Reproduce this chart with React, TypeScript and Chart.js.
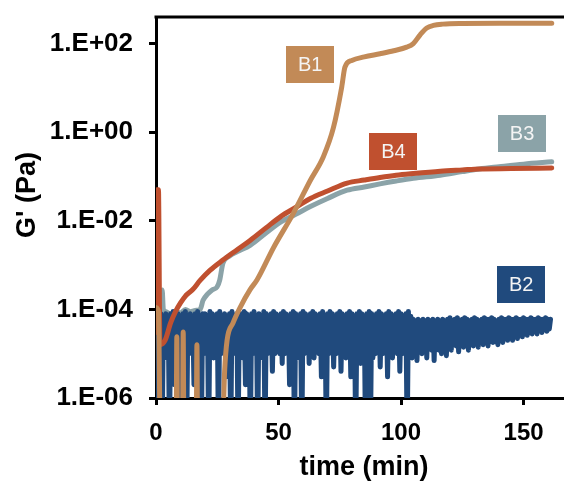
import React, { useEffect, useRef } from "react";
import { Chart, registerables } from "chart.js";
Chart.register(...registerables);

// ---------- data ----------
const xTickValues = [0, 50, 100, 150];
const yTickExponents = [-6, -4, -2, 0, 2];

// B1 (tan)
const b1Time = [0, 1, 1.8, 8.2, 8.5, 8.8, 10.8, 11.1, 11.4, 16.4, 16.7, 17.0, 27, 28, 29, 31.4, 34.3, 38.4, 41.2, 48, 56, 62.9, 68.3, 72.4, 75.8, 77.1, 79.9, 85, 91.4, 97, 102.3, 105, 107.8, 110.5, 113.2, 117, 125, 140, 161.5];
const b1Value = [1.1e-4, 9e-5, 1e-7, 1e-7, 2.4e-5, 1e-7, 1e-7, 3.1e-5, 1e-7, 1e-7, 1.6e-5, 1e-7, 1e-7, 4e-6, 2e-5, 4.9e-5, 1.1e-4, 2.8e-4, 4.6e-4, 2.5e-3, 1.45e-2, 8e-2, 0.28, 1.26, 10.5, 29.5, 41.7, 50, 59, 69, 83, 100, 158, 224, 257, 275, 285, 288, 288];

// B2 (navy) – one reading every half minute (rows of 10 minutes)
const b2Step = 0.5;
const b2Value = [
  9e-5, 1e-7, 7e-5, 1e-5, 8e-5, 1e-7, 7e-5, 8e-6, 8e-5, 1e-5, 7e-5, 1e-7, 8e-5, 1.2e-5, 9e-5, 2e-6, 7e-5, 1e-5, 8e-5, 1e-7,
  7e-5, 1e-5, 8e-5, 8e-6, 9e-5, 1e-7, 7e-5, 1e-5, 8e-5, 1.2e-5, 7e-5, 2e-6, 8e-5, 1e-5, 9e-5, 8e-6, 7e-5, 1e-7, 8e-5, 1e-5,
  8e-5, 1.2e-5, 7e-5, 1e-7, 9e-5, 1e-5, 8e-5, 8e-6, 7e-5, 1e-5, 8e-5, 1e-7, 9e-5, 1e-5, 7e-5, 1.2e-5, 8e-5, 3e-6, 7e-5, 1e-5,
  8e-5, 1e-7, 9e-5, 1e-5, 7e-5, 1.2e-5, 8e-5, 1e-7, 7e-5, 1e-5, 8e-5, 8e-6, 9e-5, 2e-6, 8e-5, 1e-5, 7e-5, 1e-7, 8e-5, 1e-5,
  9e-5, 1.2e-5, 7e-5, 1e-7, 8e-5, 1e-5, 7e-5, 8e-6, 9e-5, 1e-7, 8e-5, 1e-5, 7e-5, 1.2e-5, 8e-5, 4e-6, 9e-5, 1e-5, 8e-5, 1.2e-5,
  7e-5, 1e-5, 8e-5, 6e-6, 9e-5, 1e-5, 8e-5, 1.2e-5, 7e-5, 2e-6, 8e-5, 1e-5, 9e-5, 1e-7, 8e-5, 8e-6, 7e-5, 1e-5, 8e-5, 1e-7,
  9e-5, 1e-5, 8e-5, 1.2e-5, 7e-5, 6e-6, 8e-5, 1e-5, 9e-5, 8e-6, 8e-5, 1.2e-5, 7e-5, 1e-5, 8e-5, 3e-6, 9e-5, 1e-5, 7e-5, 1e-7,
  8e-5, 1e-5, 9e-5, 1.2e-5, 8e-5, 5e-6, 7e-5, 1e-5, 8e-5, 1.2e-5, 9e-5, 4e-6, 8e-5, 1e-5, 7e-5, 8e-6, 8e-5, 1e-5, 9e-5, 3e-6,
  8e-5, 1e-5, 7e-5, 1e-7, 8e-5, 1e-5, 9e-5, 6e-6, 8e-5, 1.2e-5, 7e-5, 1e-7, 8e-5, 1e-5, 9e-5, 1e-7, 8e-5, 8e-6, 7e-5, 1e-5,
  8e-5, 1.2e-5, 9e-5, 5e-6, 8e-5, 1e-5, 7e-5, 1.2e-5, 8e-5, 3e-6, 9e-5, 1e-5, 8e-5, 8e-6, 7e-5, 1.2e-5, 8e-5, 1e-5, 9e-5, 4e-6,
  8e-5, 1e-5, 7e-5, 1.2e-5, 8e-5, 1e-7, 9e-5, 1e-5, 7e-5, 8e-6, 6e-5, 1.2e-5, 5.5e-5, 7e-6, 6e-5, 1.5e-5, 5.5e-5, 1e-5, 6e-5, 1.5e-5,
  5.5e-5, 8e-6, 6e-5, 1.5e-5, 5.5e-5, 1.2e-5, 6e-5, 7e-6, 5.5e-5, 1.5e-5, 6e-5, 1.2e-5, 5.5e-5, 1e-5, 6e-5, 1.6e-5, 5.5e-5, 9e-6, 6e-5, 1.5e-5,
  6.5e-5, 1.2e-5, 5.5e-5, 1.8e-5, 6e-5, 1.5e-5, 6.5e-5, 1.1e-5, 5.5e-5, 1.8e-5, 6e-5, 1.4e-5, 6.5e-5, 1.8e-5, 6e-5, 1.2e-5, 5.5e-5, 1.8e-5, 6e-5, 1.5e-5,
  6.5e-5, 2e-5, 6e-5, 1.4e-5, 5.5e-5, 2e-5, 6e-5, 1.6e-5, 6.5e-5, 2e-5, 6e-5, 1.5e-5, 6e-5, 2.2e-5, 6.5e-5, 1.8e-5, 6e-5, 2.2e-5, 5.5e-5, 1.6e-5,
  6e-5, 2.4e-5, 6.5e-5, 1.8e-5, 6e-5, 2.5e-5, 6e-5, 2e-5, 6.5e-5, 2.6e-5, 6e-5, 2e-5, 6e-5, 2.6e-5, 6.5e-5, 2.2e-5, 6e-5, 2.8e-5, 6e-5, 2.4e-5,
  6.5e-5, 2.8e-5, 6e-5, 2.6e-5, 6e-5, 3e-5, 6.5e-5, 2.8e-5, 6e-5, 3.2e-5, 6e-5, 2.8e-5, 6.5e-5, 3.4e-5, 6e-5, 3e-5, 6e-5, 3.5e-5, 6.5e-5, 3.2e-5,
  6e-5, 3.6e-5, 6e-5,
];

// B3 (grey)
const b3Time = [0, 1, 2, 2.5, 3, 4, 6, 8, 10, 12, 14, 16, 18, 19.2, 21, 22.9, 24.9, 26, 27.3, 30, 33, 38.4, 45, 51, 57, 63, 70, 78, 85, 91.4, 98, 105, 116, 125, 132, 140, 150, 161.5];
const b3Value = [1e-4, 7.9e-5, 1.26e-4, 2.75e-4, 1e-4, 8.9e-5, 7.9e-5, 8.9e-5, 8.3e-5, 1e-4, 8.9e-5, 9.5e-5, 1e-4, 1.6e-4, 2.2e-4, 2.75e-4, 3.2e-4, 4.6e-4, 1.1e-3, 1.6e-3, 2e-3, 2.8e-3, 5.4e-3, 9.5e-3, 1.4e-2, 2.1e-2, 3.2e-2, 4.9e-2, 5.8e-2, 6.8e-2, 7.9e-2, 9.1e-2, 0.107, 0.129, 0.148, 0.166, 0.19, 0.214];

// B4 (red)
const b4Time = [0, 0.4, 1.0, 1.6, 3.7, 6, 8, 10, 12, 15, 18, 22, 27.3, 33, 38.4, 45, 51, 57, 63, 70, 78, 85, 91.4, 98, 105, 116, 125, 132, 145, 161.5];
const b4Value = [3e-5, 0.05, 0.05, 1.6e-5, 2e-5, 5e-5, 9e-5, 1.4e-4, 2e-4, 2.8e-4, 4.5e-4, 7.6e-4, 1.3e-3, 2.2e-3, 3.6e-3, 7e-3, 1.26e-2, 2e-2, 3.2e-2, 4.7e-2, 7.1e-2, 8.3e-2, 9.5e-2, 0.107, 0.117, 0.132, 0.141, 0.148, 0.151, 0.155];

// label anchors (time, G')
const seriesNames = ["B1", "B2", "B3", "B4"];
const labelTime = [62.9, 149, 149.4, 96.9];
const labelValue = [34, 3.7e-4, 0.92, 0.36];

const colors = ["#C28A57", "#204A7D", "#8BA3A8", "#C0502F"];

const FONT = "'Liberation Sans', Arial, sans-serif";

function pairs(t: number[], v: number[]) {
  return t.map((x, i) => ({ x, y: v[i] }));
}

function fmtExp(v: number) {
  const e = Math.round(Math.log10(v));
  const s = e < 0 ? "-" : "+";
  const a = Math.abs(e);
  return "1.E" + s + (a < 10 ? "0" + a : String(a));
}

const decorPlugin = {
  id: "decor",
  afterDraw(chart: any) {
    const { ctx, chartArea, scales } = chart;
    ctx.save();
    // top border
    ctx.strokeStyle = "#000";
    ctx.lineWidth = 3;
    ctx.beginPath();
    ctx.moveTo(chartArea.left - 1.5, chartArea.top);
    ctx.lineTo(chartArea.right, chartArea.top);
    ctx.stroke();
    // axis titles
    ctx.fillStyle = "#000";
    ctx.font = `bold 27px ${FONT}`;
    ctx.textAlign = "center";
    ctx.textBaseline = "middle";
    ctx.fillText("time (min)", 364, 468);
    ctx.save();
    ctx.translate(28, 195);
    ctx.rotate(-Math.PI / 2);
    ctx.fillText("G' (Pa)", 0, 0);
    ctx.restore();
    // series labels
    ctx.font = `20px ${FONT}`;
    for (let i = 0; i < seriesNames.length; i++) {
      const cx = scales.x.getPixelForValue(labelTime[i]);
      const cy = scales.y.getPixelForValue(labelValue[i]);
      const w = 48, h = 37;
      ctx.fillStyle = colors[i];
      ctx.fillRect(Math.round(cx - w / 2), Math.round(cy - h / 2), w, h);
      ctx.fillStyle = "#F4F4F4";
      ctx.fillText(seriesNames[i], cx, cy + 1);
    }
    ctx.restore();
  },
};

export default function App() {
  const ref = useRef<HTMLCanvasElement | null>(null);
  useEffect(() => {
    if (!ref.current) return;
    const common = {
      pointRadius: 0,
      borderWidth: 5,
      fill: false,
      clip: 0,
      borderCapStyle: "round",
      borderJoinStyle: "round",
    };
    const chart = new Chart(ref.current, {
      type: "line",
      data: {
        datasets: [
          { ...common, label: "B1", data: pairs(b1Time, b1Value), borderColor: colors[0], order: 1, cubicInterpolationMode: "monotone" },
          { ...common, label: "B4", data: pairs(b4Time, b4Value), borderColor: colors[3], order: 2, cubicInterpolationMode: "monotone" },
          { ...common, label: "B2", data: b2Value.map((v, i) => ({ x: i * b2Step, y: v })), borderColor: colors[1], order: 3, borderWidth: 5 },
          { ...common, label: "B3", data: pairs(b3Time, b3Value), borderColor: colors[2], order: 4, cubicInterpolationMode: "monotone" },
        ] as any,
      },
      options: {
        animation: false,
        responsive: false,
        events: [],
        layout: { padding: { left: 0, right: 0, top: 17, bottom: 0 } },
        plugins: { legend: { display: false }, tooltip: { enabled: false } },
        scales: {
          x: {
            type: "linear",
            min: 0,
            max: 166.5,
            afterBuildTicks: (s: any) => {
              s.ticks = xTickValues.map((v) => ({ value: v }));
            },
            afterFit: (s: any) => {
              s.height = 85;
              s.paddingLeft = 0;
              s.paddingRight = 0;
            },
            grid: { drawOnChartArea: false, drawTicks: true, tickLength: 7, tickWidth: 3, tickColor: "#000" },
            border: { display: true, width: 3, color: "#000" },
            ticks: { color: "#000", font: { family: FONT, size: 24, weight: "bold" }, padding: 14, maxRotation: 0 },
          },
          y: {
            type: "logarithmic",
            min: 1e-6,
            max: Math.pow(10, 2.6),
            afterBuildTicks: (s: any) => {
              s.ticks = yTickExponents.map((e) => ({ value: Math.pow(10, e) }));
            },
            afterFit: (s: any) => {
              s.width = 156;
              s.paddingTop = 0;
              s.paddingBottom = 0;
            },
            grid: { drawOnChartArea: false, drawTicks: true, tickLength: 7, tickWidth: 3, tickColor: "#000" },
            border: { display: true, width: 3, color: "#000" },
            ticks: {
              color: "#000",
              font: { family: FONT, size: 26, weight: "bold" },
              padding: 16,
              callback: (v: any) => fmtExp(Number(v)),
            },
          },
        },
      } as any,
      plugins: [decorPlugin],
    });
    return () => chart.destroy();
  }, []);
  return (
    <div style={{ position: "absolute", left: 0, top: 0, width: 564, height: 483, background: "#fff" }}>
      <canvas ref={ref} width={564} height={483} style={{ display: "block" }} />
    </div>
  );
}
